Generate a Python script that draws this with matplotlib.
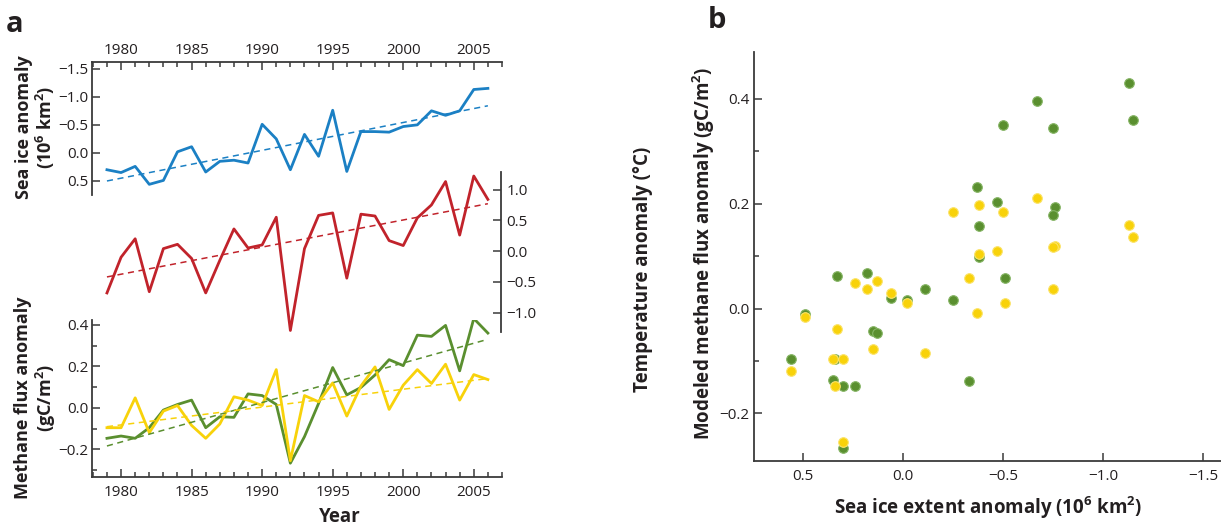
import matplotlib
matplotlib.use("Agg")
import matplotlib.pyplot as plt
from matplotlib.ticker import MultipleLocator, FixedLocator
import numpy as np

plt.rcParams['font.family'] = ['Open Sans', 'DejaVu Sans']
plt.rcParams['mathtext.fontset'] = 'custom'
plt.rcParams['mathtext.rm'] = 'Open Sans'
plt.rcParams['mathtext.bf'] = 'Open Sans:bold'

years = list(range(1979, 2007))
sea_ice = [0.30, 0.35, 0.24, 0.56, 0.49, -0.02, -0.11, 0.34, 0.15, 0.13,
           0.18, -0.51, -0.25, 0.30, -0.33, 0.06, -0.76, 0.33, -0.38, -0.38,
           -0.37, -0.47, -0.50, -0.75, -0.67, -0.75, -1.13, -1.15]
temperature = [-0.68, -0.10, 0.20, -0.66, 0.04, 0.11, -0.12, -0.68, -0.15, 0.36,
               0.05, 0.10, 0.55, -1.29, 0.04, 0.58, 0.62, -0.44, 0.60, 0.57,
               0.17, 0.09, 0.54, 0.75, 1.13, 0.26, 1.22, 0.84]
methane_green = [-0.147, -0.136, -0.147, -0.096, -0.011, 0.016, 0.037, -0.096, -0.043, -0.046,
                 0.067, 0.059, 0.016, -0.267, -0.139, 0.021, 0.194, 0.062, 0.098, 0.158,
                 0.232, 0.203, 0.350, 0.344, 0.397, 0.178, 0.430, 0.360]
methane_yellow = [-0.096, -0.096, 0.048, -0.120, -0.016, 0.011, -0.085, -0.147, -0.078, 0.053,
                  0.037, 0.011, 0.184, -0.255, 0.059, 0.029, 0.120, -0.040, 0.105, 0.197,
                  -0.008, 0.109, 0.184, 0.117, 0.210, 0.037, 0.160, 0.136]
# trend line end points (1979, 2006)
trend_years = [1979, 2006]
sea_ice_trend = [0.50, -0.84]
temperature_trend = [-0.42, 0.77]
green_trend = [-0.184, 0.330]
yellow_trend = [-0.091, 0.141]

BLUE = '#1b80c4'
RED = '#c1232b'
GREEN = '#5a8f2f'
YELLOW = '#f8d20a'
SPINE = '#3a3a3a'
TXT = '#231f20'

W, H = 1221, 526
fig = plt.figure(figsize=(W / 100, H / 100), dpi=100)


def add_ax(x0, y0, x1, y1):
    return fig.add_axes([x0 / W, 1 - y1 / H, (x1 - x0) / W, (y1 - y0) / H])


XLIM = (1977.94, 2007.0)
TICKFS = 11

def style(ax):
    ax.patch.set_alpha(0)
    for s in ax.spines.values():
        s.set_color(SPINE)
        s.set_linewidth(1.3)
    ax.tick_params(which='both', direction='in', color=SPINE, width=1.1,
                   labelsize=TICKFS, labelcolor=TXT)
    ax.tick_params(which='major', length=6)
    ax.tick_params(which='minor', length=3.5)

# ---- sea ice panel ----
ax1 = add_ax(92, 62, 502, 195)
style(ax1)
ax1.plot(years, sea_ice, color=BLUE, lw=2.0)
ax1.plot(trend_years, sea_ice_trend, color=BLUE, lw=1.1, dashes=(4, 3))
ax1.set_xlim(*XLIM)
ax1.set_ylim(0.75, -1.62)
ax1.spines['right'].set_visible(False)
ax1.spines['bottom'].set_visible(False)
ax1.xaxis.tick_top()
ax1.xaxis.set_major_locator(MultipleLocator(5))
ax1.xaxis.set_minor_locator(MultipleLocator(1))
ax1.set_yticks([-1.5, -1.0, -0.5, 0.0, 0.5])
ax1.set_yticklabels(['\u22121.5', '\u22121.0', '\u22120.5', '0.0', '0.5'])
ax1.tick_params(axis='x', which='both', top=True, bottom=False, labeltop=True, labelbottom=False, pad=3)
ax1.tick_params(axis='y', pad=2.5)

# ---- temperature panel ----
ax2 = add_ax(92, 171.7, 501, 331.7)
style(ax2)
ax2.plot(years, temperature, color=RED, lw=2.0)
ax2.plot(trend_years, temperature_trend, color=RED, lw=1.1, dashes=(4, 3))
ax2.set_xlim(XLIM[0], XLIM[0] + (XLIM[1] - XLIM[0]) * 409 / 410)
ax2.set_ylim(-1.31, 1.29)
for s in ['left', 'top', 'bottom']:
    ax2.spines[s].set_visible(False)
ax2.set_xticks([])
ax2.yaxis.tick_right()
ax2.set_yticks([-1.0, -0.5, 0.0, 0.5, 1.0])
ax2.set_yticklabels(['\u22121.0', '\u22120.5', '0.0', '0.5', '1.0'])
ax2.tick_params(axis='y', left=False, right=True, labelright=True, labelleft=False, pad=4)

# ---- methane panel ----
ax3 = add_ax(92, 320, 502, 476.7)
style(ax3)
ax3.plot(years, methane_green, color=GREEN, lw=2.0)
ax3.plot(years, methane_yellow, color=YELLOW, lw=2.0)
ax3.plot(trend_years, green_trend, color=GREEN, lw=1.1, dashes=(4, 3))
ax3.plot(trend_years, yellow_trend, color=YELLOW, lw=1.1, dashes=(4, 3))
ax3.set_xlim(*XLIM)
ax3.set_ylim(-0.332, 0.423)
ax3.spines['right'].set_visible(False)
ax3.spines['top'].set_visible(False)
ax3.xaxis.set_major_locator(MultipleLocator(5))
ax3.xaxis.set_minor_locator(MultipleLocator(1))
ax3.set_yticks([-0.2, 0.0, 0.2, 0.4])
ax3.set_yticklabels(['\u22120.2', '0.0', '0.2', '0.4'])
ax3.yaxis.set_minor_locator(FixedLocator([-0.3, -0.1, 0.1, 0.3]))
ax3.tick_params(axis='x', pad=6)
ax3.tick_params(axis='y', pad=2.5)

# ---- panel b ----
axb = add_ax(754, 52.3, 1221, 461)
style(axb)
axb.scatter(sea_ice, methane_green, s=48, color=GREEN, edgecolors='#86b565', linewidths=0.8, zorder=3)
axb.scatter(sea_ice, methane_yellow, s=48, color=YELLOW, edgecolors='#fbe36a', linewidths=0.8, zorder=4)
axb.set_xlim(0.745, -1.59)
axb.set_ylim(-0.291, 0.489)
axb.spines['right'].set_visible(False)
axb.spines['top'].set_visible(False)
axb.set_xticks([0.5, 0.0, -0.5, -1.0, -1.5])
axb.set_xticklabels(['0.5', '0.0', '\u22120.5', '\u22121.0', '\u22121.5'])
axb.set_yticks([-0.2, 0.0, 0.2, 0.4])
axb.set_yticklabels(['\u22120.2', '0.0', '0.2', '0.4'])
axb.yaxis.set_minor_locator(FixedLocator([-0.1, 0.1, 0.3]))
axb.tick_params(axis='x', pad=6)
axb.tick_params(axis='y', pad=3)


def ftext(px, py, s, **kw):
    fig.text(px / W, 1 - py / H, s, color=TXT, **kw)

LABFS = 13.5
ftext(15, 24, 'a', fontsize=21, fontweight='bold', ha='center', va='center')
ftext(717, 20, 'b', fontsize=21, fontweight='bold', ha='center', va='center')
ftext(36, 127, 'Sea ice anomaly\n(10$^\\mathbf{6}$ km$^\\mathbf{2}$)', fontsize=13, fontweight='bold',
      rotation=90, ha='center', va='center', multialignment='center', linespacing=1.08)
ftext(36, 398, 'Methane flux anomaly\n(gC/m$^\\mathbf{2}$)', fontsize=13, fontweight='bold',
      rotation=90, ha='center', va='center', multialignment='center', linespacing=1.08)
ftext(643, 269, 'Temperature anomaly (\u00b0C)', fontsize=LABFS, fontweight='bold',
      rotation=90, ha='center', va='center')
ftext(340, 517, 'Year', fontsize=LABFS, fontweight='bold', ha='center', va='center')
ftext(704, 253, 'Modeled methane flux anomaly (gC/m$^\\mathbf{2}$)', fontsize=LABFS, fontweight='bold',
      rotation=90, ha='center', va='center')
ftext(988, 508, 'Sea ice extent anomaly (10$^\\mathbf{6}$ km$^\\mathbf{2}$)', fontsize=LABFS, fontweight='bold',
      ha='center', va='center')

fig.savefig('out.png', dpi=100)
